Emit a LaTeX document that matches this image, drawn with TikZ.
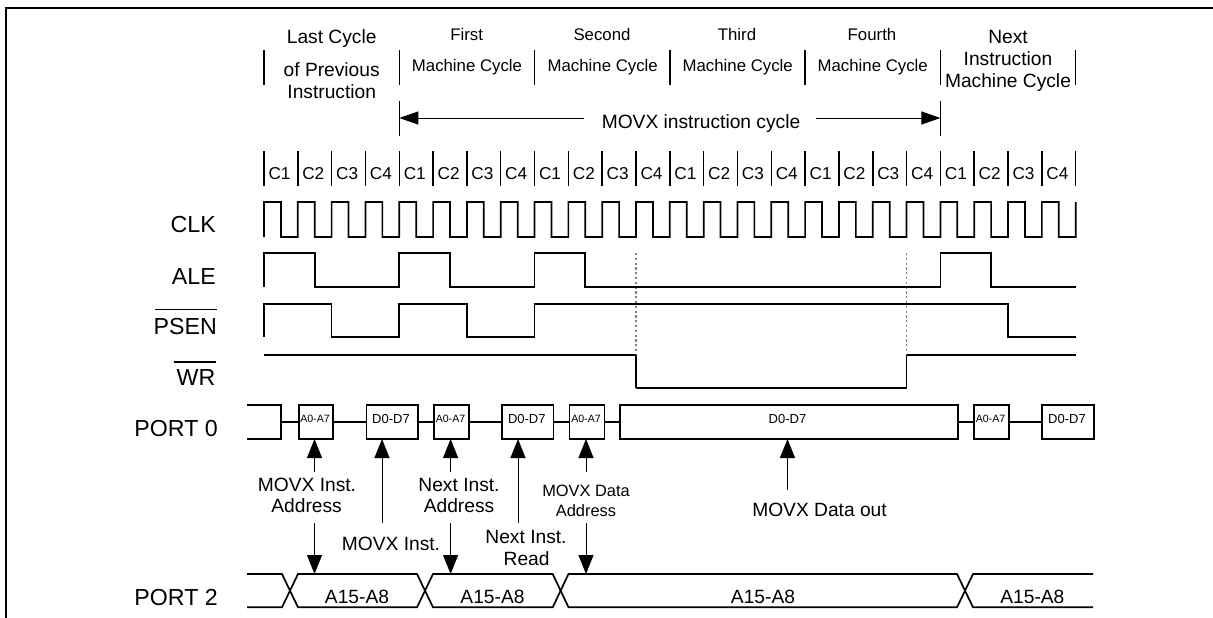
\documentclass[tikz,border=0pt]{standalone}
\usepackage{fontspec}
\setmainfont{Liberation Sans}
\usetikzlibrary{arrows.meta}
\tikzset{
  sig/.style={line width=1.7pt,line join=miter,black},
  tick/.style={line width=1.5pt,black},
  frameline/.style={line width=2pt,black},
  dots/.style={line width=1.2pt,gray,dash pattern=on 2.2pt off 2.6pt},
  arr/.style={line width=1pt,-{Triangle[length=19pt,width=15pt]},black},
  toparr/.style={line width=1pt,-{Triangle[length=19pt,width=13pt]},black},
  lbl/.style={inner sep=0pt,anchor=base,text=black},
  huge23/.style={lbl,anchor=base east,font=\fontsize{23.2}{24}\selectfont},
  big19/.style={lbl,font=\fontsize{19.2}{20}\selectfont},
  mid17/.style={lbl,font=\fontsize{16.8}{18}\selectfont},
  mid16/.style={lbl,font=\fontsize{16.4}{18}\selectfont},
  small13/.style={lbl,font=\fontsize{13}{14}\selectfont},
  small10/.style={lbl,font=\fontsize{10.6}{12}\selectfont},
  cyc/.style={lbl,anchor=base west,font=\fontsize{17.2}{18}\selectfont},
  busbox/.style={draw=black,line width=1.7pt,inner sep=0pt,minimum height=34pt,anchor=west}
}
\begin{document}
\begin{tikzpicture}[x=1pt,y=-1pt]
\useasboundingbox (0,0) rectangle (1213,618);
\def\stp{33.82}
% frame
\coordinate (fa) at (6,618); \coordinate (fb) at (6,8); \coordinate (fc) at (1213,8);
\draw[frameline] (fa) -- (fb) -- (fc);
% machine cycle ticks
\foreach \i in {0,4,8,12,16,20,24}{
  \coordinate (mt\i) at ({264+\i*\stp},50);
  \coordinate (mb\i) at ({264+\i*\stp},85);
  \draw[tick] (mt\i) -- (mb\i);
}
% header text
\node[big19] (h1) at (331.7,44) {Last Cycle};
\node[big19] (h2) at (331.7,77) {of Previous};
\node[big19] (h3) at (331.7,99) {Instruction};
\node[mid17] (f1) at (466.7,41) {First};
\node[mid17] (f2) at (467,72) {Machine Cycle};
\node[mid17] (s1) at (602,41) {Second};
\node[mid17] (s2) at (602.7,72) {Machine Cycle};
\node[mid17] (t1) at (737,41) {Third};
\node[mid17] (t2) at (737.7,72) {Machine Cycle};
\node[mid17] (o1) at (872,41) {Fourth};
\node[mid17] (o2) at (872.7,72) {Machine Cycle};
\node[big19] (n1) at (1008,44) {Next};
\node[big19] (n2) at (1008,66) {Instruction};
\node[big19] (n3) at (1008,88) {Machine Cycle};
% instruction cycle arrow
\coordinate (il) at (399.3,118); \coordinate (ir) at (940.4,118);
\coordinate (ilt) at (399.3,101); \coordinate (ilb) at (399.3,136);
\coordinate (irt) at (940.4,101); \coordinate (irb) at (940.4,136);
\coordinate (ila) at (584,118); \coordinate (ira) at (816,118);
\draw[tick] (ilt) -- (ilb);
\draw[tick] (irt) -- (irb);
\draw[toparr] (ila) -- (il);
\draw[toparr] (ira) -- (ir);
\node[big19] (ic) at (701,128) {MOVX instruction cycle};
% clock-state ticks and labels
\foreach \i [evaluate=\i as \k using {int(mod(\i,4)+1)}] in {0,...,23}{
  \coordinate (ct\i) at ({264+\i*\stp},151);
  \coordinate (cb\i) at ({264+\i*\stp},186);
  \draw[tick] (ct\i) -- (cb\i);
  \node[cyc] (c\i) at ({268.3+\i*\stp},179) {C\k};
}
\coordinate (ct24) at (1075.7,151); \coordinate (cb24) at (1075.7,186);
\draw[tick] (ct24) -- (cb24);
% signal names
\node[huge23] (lclk) at (216,232.7) {CLK};
\node[huge23] (lale) at (216,284) {ALE};
\node[huge23] (lpsen) at (217,334) {PSEN};
\node[huge23] (lwr) at (215.5,385.7) {WR};
\node[huge23] (lp0) at (218,436) {PORT 0};
\node[huge23] (lp2) at (218,605.7) {PORT 2};
\coordinate (pol) at (154.5,309.3); \coordinate (por) at (217,309.3);
\coordinate (wol) at (174,362); \coordinate (wor) at (216,362);
\draw[line width=1.3pt] (pol) -- (por);
\draw[line width=1.3pt] (wol) -- (wor);
% CLK
\draw[sig] (264,237) foreach \i in {0,...,23}{
   -- ({264+\i*\stp},202) -- ({264+(\i+.5)*\stp},202)
   -- ({264+(\i+.5)*\stp},237) -- ({264+(\i+1)*\stp},237)}
   -- (1075.7,202);
% dotted guides (behind the traces)
\coordinate (d1t) at (636,253); \coordinate (d1b) at (636,388.3);
\coordinate (d2t) at (906.6,253); \coordinate (d2b) at (906.6,388.3);
\draw[dots] (d1t) -- (d1b);
\draw[dots] (d2t) -- (d2b);
% ALE
\draw[sig] (264,287) |- (314.7,253) |- (399.3,287) |- (450,253) |- (534.6,287)
  |- (585.3,253) |- (940.4,287) |- (991.1,253) |- (1075.7,287);
% PSEN
\draw[sig] (264,337.3) |- (331.6,303.7) |- (399.3,337.3) |- (466.9,303.7)
  |- (534.6,337.3) |- (1008,303.7) |- (1075.7,337.3);
% WR
\draw[sig] (264,354.7) -- (636,354.7);
\draw[sig] (636,388.3) -- (906.6,388.3);
\draw[sig] (906.6,354.7) -- (1075.7,354.7);
\draw[line width=1.2pt] (636,354.7) -- (636,388.3);
\draw[line width=1.2pt] (906.6,354.7) -- (906.6,388.3);
% PORT 0
\node[busbox,minimum width=34pt] (b1) at (298,422) {};
\node[busbox,minimum width=51.5pt] (b2) at (365.5,422) {};
\node[busbox,minimum width=35pt] (b3) at (433,422) {};
\node[busbox,minimum width=51.5pt] (b4) at (501,422) {};
\node[busbox,minimum width=35pt] (b5) at (568.5,422) {};
\node[busbox,minimum width=338pt] (b6) at (619,422) {};
\node[busbox,minimum width=35pt] (b7) at (973,422) {};
\node[busbox,minimum width=52pt] (b8) at (1041,422) {};
\coordinate (p0a) at (247,405); \coordinate (p0b) at (281.3,405);
\coordinate (p0c) at (281.3,439); \coordinate (p0d) at (247,439);
\coordinate (p0m) at (281.3,422);
\draw[sig] (p0a) -- (p0b) -- (p0c) -- (p0d);
\draw[sig] (p0m) -- (b1.west);
\draw[sig] (b1.east) -- (b2.west);
\draw[sig] (b2.east) -- (b3.west);
\draw[sig] (b3.east) -- (b4.west);
\draw[sig] (b4.east) -- (b5.west);
\draw[sig] (b5.east) -- (b6.west);
\draw[sig] (b6.east) -- (b7.west);
\draw[sig] (b7.east) -- (b8.west);
\node[small10] (tb1) at (315,422) {A0-A7};
\node[small13] (tb2) at (391,423) {D0-D7};
\node[small10] (tb3) at (450.5,422) {A0-A7};
\node[small13] (tb4) at (526.8,423) {D0-D7};
\node[small10] (tb5) at (586,422) {A0-A7};
\node[small13] (tb6) at (787.5,423) {D0-D7};
\node[small10] (tb7) at (990.5,422) {A0-A7};
\node[small13] (tb8) at (1067,423) {D0-D7};
% PORT 2
\draw[sig] (247,574) -- (282,574) -- (298,607.3) -- (417,607.3) -- (433,574) -- (552.7,574) -- (568.5,607.3) -- (957,607.3) -- (973,574) -- (1093,574);
\draw[sig] (247,607.3) -- (282,607.3) -- (298,574) -- (417,574) -- (433,607.3) -- (552.7,607.3) -- (568.5,574) -- (957,574) -- (973,607.3) -- (1093,607.3);
\node[big19] (a1) at (357,603) {A15-A8};
\node[big19] (a2) at (492.5,603) {A15-A8};
\node[big19] (a3) at (763,603) {A15-A8};
\node[big19] (a4) at (1032.4,603) {A15-A8};
% arrow end points
\coordinate (u1s) at (314.5,472); \coordinate (u1e) at (314.5,439);
\coordinate (u2s) at (382,523);   \coordinate (u2e) at (382,439);
\coordinate (u3s) at (450.6,472); \coordinate (u3e) at (450.6,439);
\coordinate (u4s) at (518,523);   \coordinate (u4e) at (518,439);
\coordinate (u5s) at (586,472);   \coordinate (u5e) at (586,439);
\coordinate (u6s) at (787.5,490); \coordinate (u6e) at (787.5,439);
\coordinate (d1s) at (314.5,522.7); \coordinate (d1e) at (314.5,574);
\coordinate (d3s) at (450.6,522.7); \coordinate (d3e) at (450.6,574);
\coordinate (d5s) at (586,522.7);   \coordinate (d5e) at (586,574);
\foreach \p in {u1,u2,u3,u4,u5,u6,d1,d3,d5}{\draw[arr] (\p s) -- (\p e);}
% arrow labels
\node[big19] (m1) at (307,491.7) {MOVX Inst.};
\node[big19] (m2) at (306.6,512.7) {Address};
\node[big19] (m3) at (391,550) {MOVX Inst.};
\node[big19] (m4) at (459,491.7) {Next Inst.};
\node[big19] (m5) at (459,512.7) {Address};
\node[big19] (m6) at (526,543) {Next Inst.};
\node[big19] (m7) at (526.6,565) {Read};
\node[mid16] (m8) at (586,496.7) {MOVX Data};
\node[mid16] (m9) at (586,516) {Address};
\node[big19] (m10) at (819.5,516) {MOVX Data out};
\end{tikzpicture}
\end{document}
